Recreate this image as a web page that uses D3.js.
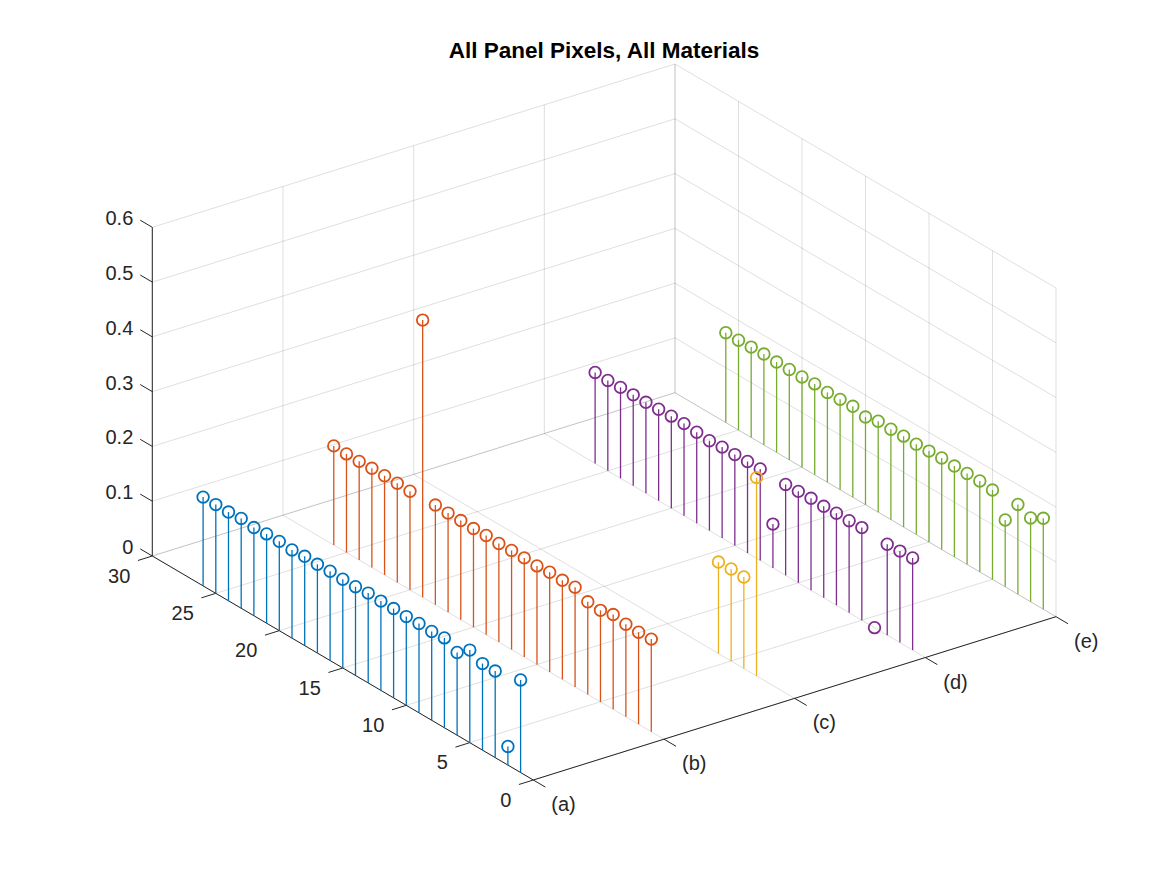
<!DOCTYPE html>
<html>
<head>
<meta charset="utf-8">
<script src="https://cdn.jsdelivr.net/npm/d3@7"></script>
<style>
  body { margin: 0; background: #fff; }
  svg { display: block; }
  text { font-family: "Liberation Sans", Helvetica, Arial, sans-serif; fill: #262626; }
</style>
</head>
<body>
<div id="chart"></div>
<script>
// categories on the x axis
const categories = ['(a)', '(b)', '(c)', '(d)', '(e)'];
// pixel index along the y axis (1..26)
const pixels = d3.range(1, 27);
const yTicks = [0, 5, 10, 15, 20, 25, 30];
const zTicks = [0, 0.1, 0.2, 0.3, 0.4, 0.5, 0.6];

// values per material, index 0 = pixel 1 ... index 25 = pixel 26
const matA = [0.169, 0.034, 0.158, 0.158, 0.169, 0.151, 0.164, 0.162, 0.163, 0.162, 0.163, 0.163, 0.164,
              0.162, 0.162, 0.163, 0.162, 0.163, 0.161, 0.163, 0.163, 0.161, 0.164, 0.162, 0.162, 0.162];
const matB = [0.169, 0.168, 0.169, 0.173, 0.167, 0.169, 0.182, 0.181, 0.182, 0.180, 0.181, 0.181, 0.180,
              0.181, 0.180, 0.181, 0.181, 0.182, 0.506, 0.180, 0.181, 0.181, 0.181, 0.180, 0.180, 0.181];
const matC = [null, null, 0.362, 0.167, 0.168, 0.167, null, null, null, null, null, null, null,
              null, null, null, null, null, null, null, null, null, null, null, null, null];
const matD = [0.168, 0.167, 0.166, 0.000, 0.169, 0.168, 0.168, 0.167, 0.168, 0.167, 0.166, 0.080, 0.167,
              0.167, 0.166, 0.166, 0.164, 0.166, 0.168, 0.168, 0.167, 0.166, 0.166, 0.166, 0.165, 0.166];
const matE = [0.166, 0.153, 0.164, 0.122, 0.163, 0.166, 0.166, 0.166, 0.167, 0.166, 0.165, 0.166, 0.165,
              0.166, 0.160, 0.166, 0.165, 0.164, 0.166, 0.165, 0.165, 0.165, 0.166, 0.165, 0.164, 0.164];

const seriesValues = [matA, matB, matC, matD, matE];
const colors = ['#0072BD', '#D95319', '#EDB120', '#7E2F8E', '#77AC30'];

const W = 1167, H = 875;
const svg = d3.select('#chart').append('svg')
  .attr('width', W).attr('height', H);

// 3D box -> screen (orthographic view, az -37.5 / el 30 look)
const xH = d3.scaleLinear().domain([1, 5]).range([533.3, 1056]);
const xV = d3.scaleLinear().domain([1, 5]).range([780, 616.7]);
const yH = d3.scaleLinear().domain([0, 30]).range([0, -381]);
const yV = d3.scaleLinear().domain([0, 30]).range([0, -224]);
const zV = d3.scaleLinear().domain([0, 0.6]).range([0, -328.7]);

const project = (x, y, z) => [xH(x) + yH(y), xV(x) + yV(y) + zV(z)];
const seg = (a, b) => 'M' + project(...a).join(',') + 'L' + project(...b).join(',');

const [x0, x1] = xH.domain();
const [y0, y1] = yH.domain();
const [z0, z1] = zV.domain();
const xTicks = d3.range(x0, x1 + 1);

// grid lines
const grid = [];
zTicks.forEach(z => {
  grid.push(seg([x0, y1, z], [x1, y1, z]));   // back wall
  grid.push(seg([x1, y0, z], [x1, y1, z]));   // right wall
});
xTicks.forEach(x => {
  grid.push(seg([x, y0, z0], [x, y1, z0]));   // floor
  grid.push(seg([x, y1, z0], [x, y1, z1]));   // back wall
});
yTicks.forEach(y => {
  grid.push(seg([x0, y, z0], [x1, y, z0]));   // floor
  grid.push(seg([x1, y, z0], [x1, y, z1]));   // right wall
});

svg.append('g')
  .selectAll('path')
  .data(grid)
  .join('path')
  .attr('d', d => d)
  .attr('fill', 'none')
  .attr('stroke', '#262626')
  .attr('stroke-opacity', 0.15)
  .attr('stroke-width', 1);

// axis lines + ticks
const axisG = svg.append('g')
  .attr('stroke', '#262626')
  .attr('stroke-width', 1)
  .attr('fill', 'none');

axisG.append('path').attr('d', seg([x0, y0, z0], [x1, y0, z0]));
axisG.append('path').attr('d', seg([x0, y0, z0], [x0, y1, z0]));
axisG.append('path').attr('d', seg([x0, y1, z0], [x0, y1, z1]));

axisG.selectAll('.xt').data(xTicks).join('path')
  .attr('d', x => seg([x, y0, z0], [x, y0 - 0.95, z0]));
axisG.selectAll('.yt').data(yTicks).join('path')
  .attr('d', y => seg([x0, y, z0], [x0 - 0.11, y, z0]));
axisG.selectAll('.zt').data(zTicks).join('path')
  .attr('d', z => seg([x0, y1, z], [x0, y1 + 0.95, z]));

// tick labels
const labG = svg.append('g').attr('font-size', 20);

labG.selectAll('.xl').data(xTicks).join('text')
  .attr('x', x => project(x, y0, z0)[0] + 18)
  .attr('y', x => project(x, y0, z0)[1] + 24)
  .attr('dy', '0.35em')
  .text((x, i) => categories[i]);

labG.selectAll('.yl').data(yTicks).join('text')
  .attr('x', y => project(x0, y, z0)[0] - 22)
  .attr('y', y => project(x0, y, z0)[1] + 19.5)
  .attr('dy', '0.35em')
  .attr('text-anchor', 'end')
  .text(y => y);

labG.selectAll('.zl').data(zTicks).join('text')
  .attr('x', z => project(x0, y1, z)[0] - 19)
  .attr('y', z => project(x0, y1, z)[1] - 9)
  .attr('dy', '0.35em')
  .attr('text-anchor', 'end')
  .text(z => z === 0 ? '0' : d3.format('.1f')(z));

// stems, drawn back to front
const stemG = svg.append('g');
for (let s = seriesValues.length - 1; s >= 0; s--) {
  const pts = pixels
    .map((p, i) => ({ x: s + 1, y: p, z: seriesValues[s][i] }))
    .filter(d => d.z !== null)
    .reverse();
  const g = stemG.append('g')
    .attr('stroke', colors[s])
    .attr('fill', 'none');
  pts.forEach(d => {
    const [bx, by] = project(d.x, d.y, 0);
    const [tx, ty] = project(d.x, d.y, d.z);
    g.append('line')
      .attr('x1', bx).attr('y1', by)
      .attr('x2', tx).attr('y2', ty)
      .attr('stroke-width', 1.3);
    g.append('circle')
      .attr('cx', tx).attr('cy', ty)
      .attr('r', 5.8)
      .attr('stroke-width', 1.8);
  });
}

// title
svg.append('text')
  .attr('x', 604)
  .attr('y', 50)
  .attr('dy', '0.35em')
  .attr('text-anchor', 'middle')
  .attr('font-size', 22.5)
  .attr('font-weight', 'bold')
  .style('fill', '#000')
  .text('All Panel Pixels, All Materials');
</script>
</body>
</html>
